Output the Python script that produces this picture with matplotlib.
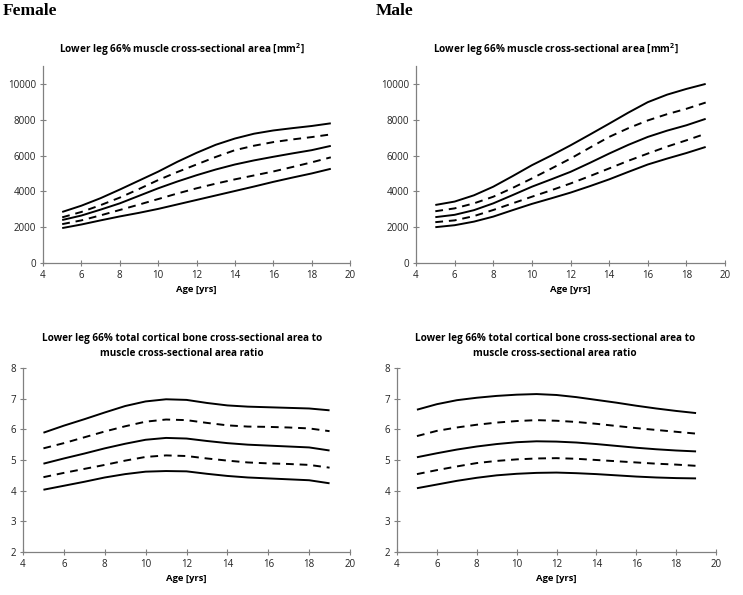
import numpy as np
import matplotlib
matplotlib.use("Agg")
import matplotlib.pyplot as plt

plt.rcParams['font.family'] = ['Open Sans', 'DejaVu Sans']

age = list(range(5, 20))

# female muscle CSA [mm2], centiles from top to bottom
f_mus_p97 = [2850, 3200, 3620, 4100, 4600, 5100, 5650, 6150, 6600, 6950, 7220, 7400, 7530, 7650, 7800]
f_mus_p75 = [2550, 2850, 3230, 3650, 4130, 4630, 5080, 5500, 5920, 6300, 6550, 6750, 6900, 7030, 7180]
f_mus_p50 = [2400, 2650, 2980, 3330, 3750, 4170, 4550, 4900, 5220, 5500, 5730, 5930, 6120, 6300, 6540]
f_mus_p25 = [2170, 2380, 2660, 2960, 3260, 3570, 3880, 4170, 4430, 4670, 4890, 5110, 5360, 5620, 5900]
f_mus_p3 = [1950, 2150, 2380, 2600, 2800, 3020, 3270, 3520, 3770, 4020, 4270, 4530, 4770, 5000, 5260]

# male muscle CSA [mm2]
m_mus_p97 = [3240, 3430, 3780, 4260, 4850, 5460, 6000, 6570, 7170, 7780, 8400, 8980, 9400, 9720, 10000]
m_mus_p75 = [2890, 3050, 3330, 3700, 4190, 4720, 5270, 5830, 6440, 7040, 7530, 7960, 8310, 8610, 8960]
m_mus_p50 = [2560, 2690, 2950, 3330, 3790, 4260, 4670, 5090, 5590, 6110, 6600, 7040, 7390, 7690, 8050]
m_mus_p25 = [2280, 2380, 2620, 2960, 3330, 3700, 4060, 4440, 4850, 5280, 5710, 6110, 6500, 6850, 7220]
m_mus_p3 = [2000, 2110, 2310, 2590, 2950, 3300, 3610, 3930, 4290, 4670, 5090, 5500, 5830, 6140, 6480]

# female bone/muscle ratio
f_rat_p97 = [5.89, 6.12, 6.33, 6.55, 6.76, 6.91, 6.98, 6.96, 6.86, 6.78, 6.74, 6.72, 6.70, 6.68, 6.62]
f_rat_p75 = [5.38, 5.55, 5.74, 5.93, 6.10, 6.25, 6.32, 6.30, 6.21, 6.13, 6.09, 6.08, 6.06, 6.03, 5.94]
f_rat_p50 = [4.88, 5.05, 5.21, 5.38, 5.53, 5.66, 5.72, 5.70, 5.62, 5.55, 5.50, 5.47, 5.44, 5.41, 5.31]
f_rat_p25 = [4.44, 4.58, 4.71, 4.84, 4.98, 5.10, 5.15, 5.13, 5.05, 4.98, 4.92, 4.89, 4.87, 4.84, 4.75]
f_rat_p3 = [4.03, 4.16, 4.29, 4.43, 4.54, 4.62, 4.64, 4.63, 4.55, 4.48, 4.43, 4.40, 4.37, 4.34, 4.24]

# male bone/muscle ratio
m_rat_p97 = [6.64, 6.82, 6.95, 7.03, 7.09, 7.13, 7.15, 7.12, 7.05, 6.96, 6.87, 6.77, 6.68, 6.60, 6.53]
m_rat_p75 = [5.78, 5.95, 6.06, 6.15, 6.22, 6.27, 6.30, 6.28, 6.24, 6.18, 6.11, 6.04, 5.98, 5.92, 5.86]
m_rat_p50 = [5.09, 5.22, 5.34, 5.44, 5.52, 5.58, 5.61, 5.60, 5.57, 5.52, 5.46, 5.40, 5.35, 5.31, 5.28]
m_rat_p25 = [4.54, 4.67, 4.79, 4.90, 4.97, 5.02, 5.05, 5.06, 5.04, 5.00, 4.96, 4.92, 4.88, 4.85, 4.81]
m_rat_p3 = [4.08, 4.20, 4.32, 4.42, 4.50, 4.55, 4.58, 4.59, 4.57, 4.54, 4.50, 4.46, 4.43, 4.41, 4.40]

title_mus = 'Lower leg 66% muscle cross-sectional area [mm$^\\mathregular{2}$]'
title_rat = 'Lower leg 66% total cortical bone cross-sectional area to\nmuscle cross-sectional area ratio'

fig = plt.figure(figsize=(7.43, 5.95), dpi=100)
W, H = 743.0, 595.0


def make_ax(x0, x1, ytop, ybot):
    return fig.add_axes([x0 / W, 1 - ybot / H, (x1 - x0) / W, (ybot - ytop) / H])


def style(ax, yl, yticks):
    ax.set_xlim(4, 20)
    ax.set_ylim(*yl)
    ax.set_xticks(range(4, 21, 2))
    ax.set_yticks(yticks)
    for s in ['top', 'right']:
        ax.spines[s].set_visible(False)
    for s in ['left', 'bottom']:
        ax.spines[s].set_color('#808080')
        ax.spines[s].set_linewidth(0.9)
    ax.tick_params(direction='inout', length=4, width=0.8, color='#808080',
                   labelsize=7, labelcolor='#222222', pad=3)
    ax.set_xlabel('Age [yrs]', fontsize=6.8, fontweight='bold', labelpad=3)


def draw(ax, curves):
    for c, ls in zip(curves, ['-', (0, (4, 3)), '-', (0, (4, 3)), '-']):
        ax.plot(age, c, color='black', lw=1.4, ls=ls, solid_capstyle='butt',
                solid_joinstyle='round', dash_joinstyle='round')


ax1 = make_ax(43, 350, 66, 263)
draw(ax1, [f_mus_p97, f_mus_p75, f_mus_p50, f_mus_p25, f_mus_p3])
style(ax1, (0, 11000), range(0, 10001, 2000))

ax2 = make_ax(416, 725, 66, 263)
draw(ax2, [m_mus_p97, m_mus_p75, m_mus_p50, m_mus_p25, m_mus_p3])
style(ax2, (0, 11000), range(0, 10001, 2000))

ax3 = make_ax(23, 350, 368, 552)
draw(ax3, [f_rat_p97, f_rat_p75, f_rat_p50, f_rat_p25, f_rat_p3])
style(ax3, (2, 8), range(2, 9))

ax4 = make_ax(397, 716, 368, 552)
draw(ax4, [m_rat_p97, m_rat_p75, m_rat_p50, m_rat_p25, m_rat_p3])
style(ax4, (2, 8), range(2, 9))

fig.text(182 / W, 1 - 50 / H, title_mus, ha='center', va='center',
         fontsize=7.2, fontweight='bold')
fig.text(556 / W, 1 - 50 / H, title_mus, ha='center', va='center',
         fontsize=7.2, fontweight='bold')
fig.text(182 / W, 1 - 346 / H, title_rat, ha='center', va='center',
         fontsize=7.2, fontweight='bold', linespacing=1.5)
fig.text(555 / W, 1 - 346 / H, title_rat, ha='center', va='center',
         fontsize=7.2, fontweight='bold', linespacing=1.5)

fig.text(3 / W, 1 - 11 / H, 'Female', ha='left', va='center',
         fontsize=12.5, fontweight='bold', family='Liberation Serif')
fig.text(376 / W, 1 - 11 / H, 'Male', ha='left', va='center',
         fontsize=12.5, fontweight='bold', family='Liberation Serif')

fig.savefig('out.png', dpi=100)
